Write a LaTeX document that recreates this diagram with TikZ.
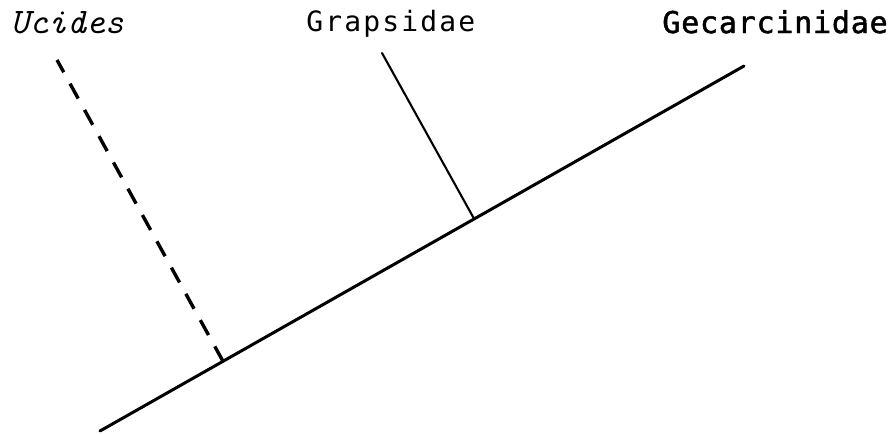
\documentclass[tikz,border=0pt]{standalone}
\usepackage{fontspec}
\usepackage{tikz}
\usetikzlibrary{calc}
\newfontfamily\clademono[LetterSpace=7.6]{DejaVu Sans Mono}
\newfontfamily\cladeheavy[LetterSpace=2.6,FakeBold=1.6]{DejaVu Sans Mono}
\tikzset{
  taxon/.style={anchor=base west, inner sep=0pt, font=\fontsize{14}{16}\selectfont\clademono},
  family/.style={taxon, font=\fontsize{15}{17}\selectfont\cladeheavy},
  extinct/.style={taxon, font=\fontsize{18}{20}\selectfont\ttfamily\itshape},
  trunk/.style={line width=1.5pt, line cap=round},
  twig/.style={line width=1.05pt, line cap=round},
  unsure/.style={line width=1.7pt, dash pattern=on 8.5pt off 6.5pt},
}

\begin{document}
\begin{tikzpicture}[x=0.5pt,y=-0.5pt]
\useasboundingbox (0,0) rectangle (895,434);
% taxa
\node[extinct] (ucides) at (10,33) {Ucides};
\node[taxon] (grap) at (306,31) {Grapsidae};
\node[family] (gecar) at (662,33) {Gecarcinidae};
% tree
\coordinate (root) at (100,431);
\coordinate (gtip) at (744,66);
\coordinate (utip) at (57,60);
\coordinate (rtip) at (382,53);
\coordinate (uj) at ($(root)!0.191!(gtip)$);
\coordinate (rj) at ($(root)!0.581!(gtip)$);
\draw[trunk] (root) -- (gtip);
\draw[twig] (rj) -- (rtip);
\draw[unsure] (uj) -- (utip);
\end{tikzpicture}
\end{document}
